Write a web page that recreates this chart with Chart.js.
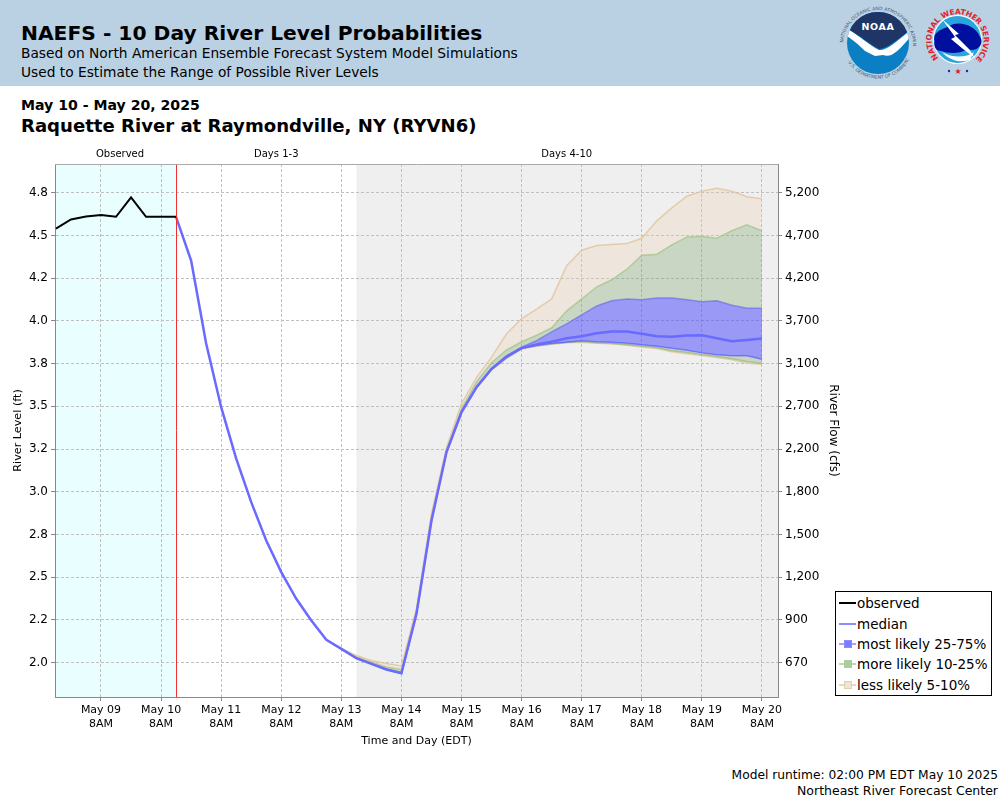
<!DOCTYPE html>
<html>
<head>
<meta charset="utf-8">
<title>NAEFS River Level Probabilities</title>
<script src="https://cdn.jsdelivr.net/npm/chart.js@4"></script>
<style>
  html, body { margin: 0; padding: 0; background: #fff; }
  body { width: 1000px; height: 800px; position: relative; overflow: hidden; font-family: "DejaVu Sans", sans-serif; color: #000; }
  canvas { position: absolute; left: 0; top: 0; }
  .txt { position: absolute; white-space: nowrap; line-height: 1; }
  #band { position: absolute; left: 0; top: 0; width: 1000px; height: 85.5px; background: #bad1e4; }
  #logos { position: absolute; left: 820px; top: 0; }
  #legend { position: absolute; left: 835px; top: 591px; width: 155px; height: 103px; border: 1px solid #000; background: #fff; }
  .row { position: absolute; left: 0; height: 20px; font-size: 13.5px; line-height: 20px; white-space: nowrap; }
  .row span.t { position: absolute; left: 21px; top: 0; }
  .row i { position: absolute; left: 3px; top: 9px; width: 17px; height: 2px; }
  .row b { position: absolute; left: 8px; top: 6px; width: 6px; height: 6px; border: 1px solid; }
</style>
</head>
<body>
<div id="band"></div>
<div class="txt" style="left:21px;top:23px;font-size:20.25px;font-weight:bold">NAEFS - 10 Day River Level Probabilities</div>
<div class="txt" style="left:21px;top:47px;font-size:13.75px">Based on North American Ensemble Forecast System Model Simulations</div>
<div class="txt" style="left:21px;top:66px;font-size:13.75px">Used to Estimate the Range of Possible River Levels</div>
<div class="txt" style="left:21px;top:98px;font-size:14.1px;font-weight:bold">May 10 - May 20, 2025</div>
<div class="txt" style="left:21px;top:117px;font-size:18.08px;font-weight:bold">Raquette River at Raymondville, NY (RYVN6)</div>
<div class="txt" style="right:2px;top:769px;font-size:12.25px">Model runtime: 02:00 PM EDT May 10 2025</div>
<div class="txt" style="right:2px;top:785px;font-size:12.5px">Northeast River Forecast Center</div>

<svg id="logos" width="180" height="85" viewBox="0 0 180 85">
  <defs>
    <path id="noaaTop" d="M 23 45 A 35 35 0 0 1 93 45"/>
    <path id="noaaBot" d="M 27 60 A 35 35 0 0 0 89 60"/>
    <path id="nwsRing" d="M 118.5 58 A 26 26 0 1 1 156.5 58"/>
    <clipPath id="noaaClip"><circle cx="58" cy="43" r="31"/></clipPath>
  </defs>
  <text font-size="4.6" fill="#4b5a6e"><textPath href="#noaaTop" startOffset="2%">NATIONAL OCEANIC AND ATMOSPHERIC ADMINISTRATION</textPath></text>
  <text font-size="4.6" fill="#4b5a6e"><textPath href="#noaaBot" startOffset="3%">U.S. DEPARTMENT OF COMMERCE</textPath></text>
  <g clip-path="url(#noaaClip)">
    <rect x="24" y="9" width="70" height="70" fill="#0a7fc4"/>
    <path d="M 26 28 C 40 36 50 46 59 50 C 67 51 77 41 93 28 L 93 34 C 81 47 73 59 63 55 L 55 56 L 45 51 C 37 43 31 39 25 35 Z" fill="#fff"/>
    <path d="M 24 9 L 94 9 L 94 27 C 78 39 67 49 59 49 C 50 45 40 35 24 27 Z" fill="#1e3566"/>
  </g>
  <text x="58" y="30" font-size="9.5" font-weight="bold" fill="#fff" text-anchor="middle" letter-spacing="0.6">NOAA</text>

  <text font-size="7.6" font-weight="bold" fill="#e0232b"><textPath href="#nwsRing" textLength="122" lengthAdjust="spacing">NATIONAL WEATHER SERVICE</textPath></text>
  <circle cx="137.5" cy="39.5" r="24.5" fill="#fff"/>
  <circle cx="137.5" cy="39.5" r="23.5" fill="#2aa5dc"/>
  <path d="M 114.5 41 C 112.5 31 123.5 29 129.5 26 C 139.5 20 155.5 26 159.5 36 C 165.5 43 157.5 53 147.5 49 C 137.5 55 127.5 53 121.5 51 C 115.5 51 113.5 46 114.5 41 Z" fill="#000f9e"/>
  <path d="M 122 52 C 132 58 146 58 154 52 L 150 60 C 140 63 130 61 122 52 Z" fill="#fff"/>
  <path d="M 122 19 L 139 34 L 135 35 L 149 49 L 155 58 L 143 49 L 131 39 L 135 37 Z" fill="#fff"/>
  <text x="138" y="74" font-size="8" fill="#d81e28" text-anchor="middle">★</text>
  <circle cx="129" cy="71" r="1.2" fill="#1d2f8a"/><circle cx="147" cy="71" r="1.2" fill="#1d2f8a"/>
</svg>

<canvas id="riverChart" width="1000" height="800"></canvas>
<div id="legend"></div>

<script>
// hours counted from May 09 8AM EDT
const obsHours = [-18, -12, -6, 0, 6, 12, 18, 24, 30];
const observed = [4.541, 4.594, 4.611, 4.621, 4.610, 4.724, 4.610, 4.610, 4.610];

const fcstHours = [30, 36, 42, 48, 54, 60, 66, 72, 78, 84, 90, 96, 102, 108, 114, 120, 126, 132, 138, 144,
  150, 156, 162, 168, 174, 180, 186, 192, 198, 204, 210, 216, 222, 228, 234, 240, 246, 252, 258, 264];
const median = [4.608, 4.354, 3.868, 3.495, 3.194, 2.939, 2.714, 2.529, 2.373, 2.246,
  2.133, 2.080, 2.025, 1.992, 1.959, 1.937, 2.285, 2.831, 3.232, 3.466,
  3.612, 3.720, 3.792, 3.841, 3.862, 3.879, 3.899, 3.910, 3.928, 3.938,
  3.938, 3.925, 3.910, 3.907, 3.915, 3.916, 3.899, 3.881, 3.889, 3.897];

const bandHours = [96, 102, 108, 114, 120, 126, 132, 138, 144, 150, 156, 162, 168, 174, 180, 186, 192, 198,
  204, 210, 216, 222, 228, 234, 240, 246, 252, 258, 264];
const p95 = [2.082, 2.041, 2.012, 1.994, 1.980, 2.316, 2.872, 3.259, 3.516, 3.670, 3.788, 3.925, 4.014, 4.069, 4.129,
  4.324, 4.414, 4.442, 4.447, 4.453, 4.484, 4.586, 4.662, 4.730, 4.759, 4.777, 4.759, 4.727, 4.715];
const p90 = [2.080, 2.032, 2.003, 1.974, 1.959, 2.304, 2.855, 3.247, 3.487, 3.645, 3.757, 3.830, 3.878, 3.916, 3.960,
  4.059, 4.129, 4.200, 4.241, 4.303, 4.385, 4.391, 4.446, 4.492, 4.496, 4.484, 4.529, 4.563, 4.528];
const p75 = [2.079, 2.026, 1.994, 1.962, 1.941, 2.290, 2.837, 3.235, 3.470, 3.616, 3.721, 3.795, 3.846, 3.885, 3.936,
  3.983, 4.036, 4.088, 4.118, 4.129, 4.124, 4.135, 4.135, 4.124, 4.112, 4.118, 4.092, 4.074, 4.074];
const p25 = [2.080, 2.025, 1.992, 1.959, 1.937, 2.285, 2.831, 3.232, 3.464, 3.610, 3.716, 3.786, 3.840, 3.856, 3.868,
  3.875, 3.884, 3.878, 3.875, 3.870, 3.860, 3.852, 3.840, 3.829, 3.813, 3.802, 3.796, 3.796, 3.776];
const p10 = [2.080, 2.025, 1.992, 1.959, 1.937, 2.285, 2.831, 3.232, 3.463, 3.609, 3.715, 3.783, 3.838, 3.854, 3.866,
  3.875, 3.878, 3.872, 3.868, 3.860, 3.852, 3.843, 3.825, 3.815, 3.802, 3.792, 3.778, 3.762, 3.751];
const p05 = [2.080, 2.025, 1.992, 1.959, 1.937, 2.285, 2.830, 3.231, 3.462, 3.608, 3.714, 3.781, 3.836, 3.852, 3.864,
  3.873, 3.875, 3.870, 3.866, 3.857, 3.848, 3.838, 3.820, 3.808, 3.797, 3.786, 3.772, 3.752, 3.747];

const xTickHours = [0, 24, 48, 72, 96, 120, 144, 168, 192, 216, 240, 264];
const xTickDays = ['May 09', 'May 10', 'May 11', 'May 12', 'May 13', 'May 14', 'May 15', 'May 16', 'May 17', 'May 18', 'May 19', 'May 20'];
const levelTicks = [2.0, 2.25, 2.5, 2.75, 3.0, 3.25, 3.5, 3.75, 4.0, 4.25, 4.5, 4.75];
const levelLabels = ['2.0', '2.2', '2.5', '2.8', '3.0', '3.2', '3.5', '3.8', '4.0', '4.2', '4.5', '4.8'];
const flowLabels = ['670', '900', '1,200', '1,500', '1,800', '2,200', '2,700', '3,100', '3,700', '4,200', '4,700', '5,200'];

const runtimeHour = 30;
const day4Hour = 102;
const periodNames = ['Observed', 'Days 1-3', 'Days 4-10'];
const periodHours = [7.6, 70, 186];

const BLACK = '#000000';
const MEDIAN = 'rgb(106,106,255)';
const BLUE_FILL = 'rgba(60,60,255,0.47)';
const BLUE_LINE = 'rgba(110,110,255,0.75)';
const GREEN_FILL = 'rgba(113,156,93,0.3)';
const GREEN_LINE = 'rgba(150,195,130,0.7)';
const TAN_FILL = 'rgba(235,203,163,0.25)';
const TAN_LINE = 'rgba(228,195,155,0.8)';

const pts = (xs, ys) => ys.map((y, i) => ({ x: xs[i], y: y }));
const band = (label, data, fill, line) => ({
  label: label, data: pts(bandHours, data), backgroundColor: fill || 'transparent',
  borderColor: line, borderWidth: 1.5, pointRadius: 0, tension: 0, fill: fill ? '+1' : false
});

// shaded periods, top frame, period names and the runtime line
const periods = {
  id: 'periods',
  beforeDraw(chart) {
    const { ctx, chartArea: a, scales: { x } } = chart;
    ctx.save();
    ctx.fillStyle = '#e9ffff';
    ctx.fillRect(a.left, a.top, x.getPixelForValue(runtimeHour) - a.left, a.height);
    ctx.fillStyle = '#efefef';
    ctx.fillRect(x.getPixelForValue(day4Hour), a.top, a.right - x.getPixelForValue(day4Hour), a.height);
    ctx.restore();
  },
  afterDatasetsDraw(chart) {
    const { ctx, chartArea: a, scales: { x } } = chart;
    ctx.save();
    ctx.strokeStyle = '#f03030';
    ctx.lineWidth = 1;
    const rx = Math.round(x.getPixelForValue(runtimeHour)) + 0.5;
    ctx.beginPath(); ctx.moveTo(rx, a.top); ctx.lineTo(rx, a.bottom); ctx.stroke();
    ctx.strokeStyle = '#aaaaaa';
    ctx.beginPath(); ctx.moveTo(a.left, a.top + 0.5); ctx.lineTo(a.right, a.top + 0.5); ctx.stroke();
    ctx.fillStyle = '#000';
    ctx.font = '10px "DejaVu Sans"';
    ctx.textAlign = 'center';
    ctx.textBaseline = 'middle';
    periodNames.forEach((n, i) => ctx.fillText(n, x.getPixelForValue(periodHours[i]), 154));
    ctx.restore();
  }
};

const tickFont = { family: 'DejaVu Sans', size: 12 };
const setLevelTicks = s => { s.ticks = levelTicks.map(v => ({ value: v })); };

new Chart(document.getElementById('riverChart').getContext('2d'), {
  type: 'line',
  data: {
    datasets: [
      { label: 'observed', data: pts(obsHours, observed), borderColor: BLACK, borderWidth: 2, pointRadius: 0, tension: 0, fill: false },
      { label: 'median', data: pts(fcstHours, median), borderColor: MEDIAN, borderWidth: 2.5, pointRadius: 0, tension: 0, fill: false },
      band('p95', p95, TAN_FILL, TAN_LINE),
      band('p90', p90, GREEN_FILL, GREEN_LINE),
      band('p75', p75, BLUE_FILL, BLUE_LINE),
      band('p25', p25, GREEN_FILL, BLUE_LINE),
      band('p10', p10, TAN_FILL, GREEN_LINE),
      band('p05', p05, null, TAN_LINE)
    ]
  },
  options: {
    responsive: false,
    animation: false,
    devicePixelRatio: 1,
    layout: { padding: { left: 0, top: 164, right: 160, bottom: 50 } },
    plugins: { legend: { display: false }, tooltip: { enabled: false } },
    scales: {
      x: {
        type: 'linear',
        min: -18.37,
        max: 270.4,
        afterBuildTicks: s => { s.ticks = xTickHours.map(v => ({ value: v })); },
        afterFit: s => { s.height = 53; },
        ticks: {
          autoSkip: false, maxRotation: 0, color: BLACK, padding: 2,
          font: { family: 'DejaVu Sans', size: 11, lineHeight: 1.28 },
          callback: (v, i) => [xTickDays[i], '8AM']
        },
        grid: { color: '#c0c0c0', tickColor: '#888888', tickLength: 4, lineWidth: 1 },
        border: { color: '#888888', width: 1, dash: [3, 2] },
        title: { display: true, text: 'Time and Day (EDT)', color: BLACK, font: { family: 'DejaVu Sans', size: 11 }, padding: { top: 0, bottom: 2 } }
      },
      y: {
        position: 'left',
        min: 1.798,
        max: 4.919,
        afterBuildTicks: setLevelTicks,
        afterFit: s => { s.width = 55; },
        ticks: { autoSkip: false, color: BLACK, font: tickFont, padding: 3, callback: (v, i) => levelLabels[i] },
        grid: { color: '#c0c0c0', tickColor: '#888888', tickLength: 4, lineWidth: 1 },
        border: { color: '#888888', width: 1, dash: [3, 2] },
        title: { display: true, text: 'River Level (ft)', color: BLACK, font: { family: 'DejaVu Sans', size: 11.2 }, padding: { top: 11, bottom: 0 } }
      },
      y2: {
        position: 'right',
        min: 1.798,
        max: 4.919,
        afterBuildTicks: setLevelTicks,
        afterFit: s => { s.width = 62; },
        ticks: { autoSkip: false, color: BLACK, font: tickFont, padding: 3, callback: (v, i) => flowLabels[i] },
        grid: { drawOnChartArea: false, tickColor: '#888888', tickLength: 4 },
        border: { color: '#888888', width: 1 },
        title: { display: true, text: 'River Flow (cfs)', color: BLACK, font: { family: 'DejaVu Sans', size: 12 }, padding: { top: 0, bottom: 6 } }
      }
    }
  },
  plugins: [periods]
});

// legend box
const legendNames = ['observed', 'median', 'most likely 25-75%', 'more likely 10-25%', 'less likely 5-10%'];
const legendLines = ['#000000', 'rgb(140,140,255)', 'rgb(165,165,255)', 'rgb(190,215,180)', 'rgb(235,215,195)'];
const legendBoxes = [null, null, 'rgb(125,125,255)', 'rgb(170,205,155)', 'rgb(240,228,212)'];
const legendEdges = [null, null, 'rgb(140,140,255)', 'rgb(175,205,160)', 'rgb(225,205,180)'];
const legendTops = [1, 21.5, 42, 62, 82.5];
const legend = document.getElementById('legend');
legendNames.forEach((n, i) => {
  const box = legendBoxes[i] ? `<b style="background:${legendBoxes[i]};border-color:${legendEdges[i]}"></b>` : '';
  legend.insertAdjacentHTML('beforeend',
    `<div class="row" style="top:${legendTops[i]}px;width:155px"><i style="background:${legendLines[i]}"></i>${box}<span class="t">${n}</span></div>`);
});
</script>
</body>
</html>
